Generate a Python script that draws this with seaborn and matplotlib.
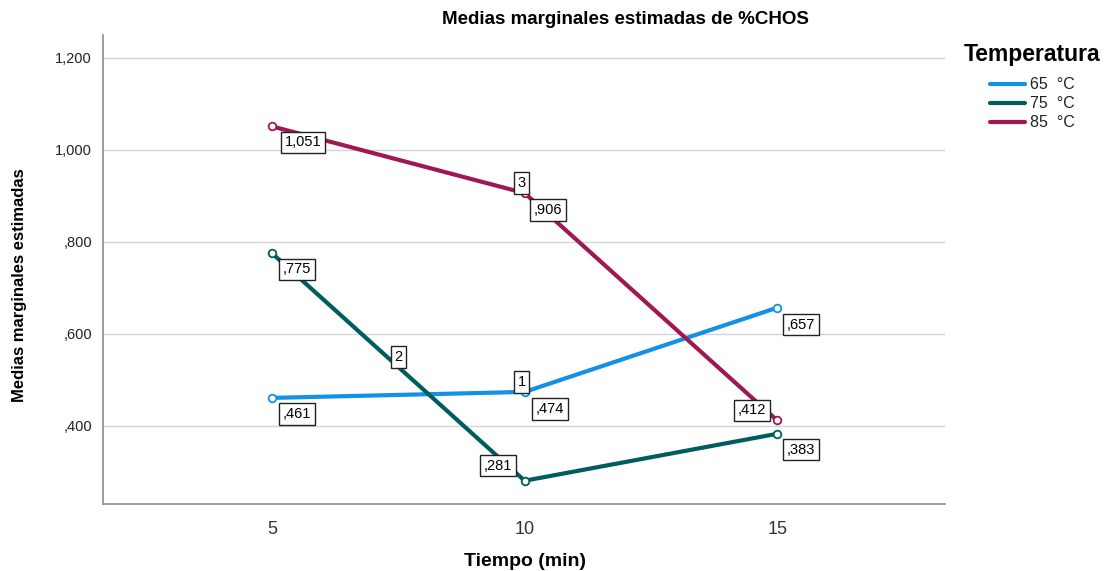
import pandas as pd
import numpy as np
import seaborn as sns
import matplotlib
matplotlib.use('Agg')
import matplotlib.pyplot as plt

tiempo = [5, 10, 15]
temperaturas = ['65  °C', '75  °C', '85  °C']
medias_65 = [0.461, 0.474, 0.657]
medias_75 = [0.775, 0.281, 0.383]
medias_85 = [1.051, 0.906, 0.412]
colores = ['#1192e8', '#005d5d', '#9f1853']

y_ticks = [0.4, 0.6, 0.8, 1.0, 1.2]
y_tick_labels = [',400', ',600', ',800', '1,000', '1,200']

df = pd.DataFrame({
    'Tiempo': tiempo * 3,
    'Media': medias_65 + medias_75 + medias_85,
    'Temperatura': [t for t in temperaturas for _ in tiempo],
})


def fmt(v):
    s = f"{v:.3f}".replace('.', ',')
    return s[1:] if s.startswith('0') else s


sns.set_style('white')
plt.rcParams['font.family'] = ['Liberation Sans', 'DejaVu Sans']
plt.rcParams['text.color'] = 'black'

fig = plt.figure(figsize=(11.07, 5.71), dpi=100)
ax = fig.add_axes([0.093, 0.117, 0.761, 0.822])

ax.grid(axis='y', color='#d3d3d3', linewidth=1)
ax.set_axisbelow(True)

sns.lineplot(data=df, x='Tiempo', y='Media', hue='Temperatura',
             palette=colores, linewidth=3, marker='o', markersize=5.5,
             markerfacecolor='white', markeredgewidth=1.3,
             legend=False, ax=ax, zorder=3)
# re-colour marker edges to match their line
for line in ax.get_lines():
    line.set_markeredgecolor(line.get_color())

ax.set_xlim(1.65, 18.33)
ax.set_ylim(0.23, 1.25)
ax.set_xticks(tiempo)
ax.set_xticklabels([str(t) for t in tiempo], fontsize=13, color='#333333')
ax.set_yticks(y_ticks)
ax.set_yticklabels(y_tick_labels, fontsize=10.5, color='#222222')
ax.tick_params(length=0, pad=8)
ax.tick_params(axis='x', pad=12)
for s in ['top', 'right']:
    ax.spines[s].set_visible(False)
for s in ['left', 'bottom']:
    ax.spines[s].set_color('#8c8c8c')
    ax.spines[s].set_linewidth(1.2)

ax.set_xlabel('')
ax.set_ylabel('')
fig.text(0.474, 0.017, 'Tiempo (min)', ha='center', va='center',
         fontsize=14, fontweight='bold', color='black')
fig.text(0.018, 0.5, 'Medias marginales estimadas', rotation=90,
         ha='center', va='center', fontsize=12, fontweight='bold',
         color='black')
fig.text(0.565, 0.965, 'Medias marginales estimadas de %CHOS',
         ha='center', va='center', fontsize=13.5, fontweight='bold',
         color='black')

box = dict(boxstyle='square,pad=0.25', fc='white', ec='#222222', lw=1)
series = [medias_65, medias_75, medias_85]
# pixel offsets of value labels (dx, dy) per series / point
offsets = [
    [(25, -16), (25, -17), (24, -17)],
    [(25, -16), (-27, 15), (24, -16)],
    [(31, -16), (23, -17), (-25, 10)],
]
for vals, offs in zip(series, offsets):
    for x, v, (dx, dy) in zip(tiempo, vals, offs):
        ax.annotate(fmt(v), (x, v), xytext=(dx, dy), textcoords='offset pixels',
                    ha='center', va='center', fontsize=10.5, bbox=box, zorder=5)

# series number labels
ax.annotate('1', (tiempo[1], medias_65[1]), xytext=(-3, 10),
            textcoords='offset pixels', ha='center', va='center',
            fontsize=10.5, bbox=box, zorder=5)
ax.annotate('2', ((tiempo[0] + tiempo[1]) / 2, (medias_75[0] + medias_75[1]) / 2),
            xytext=(0, 10), textcoords='offset pixels', ha='center', va='center',
            fontsize=10.5, bbox=box, zorder=5)
ax.annotate('3', (tiempo[1], medias_85[1]), xytext=(-3, 10),
            textcoords='offset pixels', ha='center', va='center',
            fontsize=10.5, bbox=box, zorder=5)

handles = [plt.Line2D([0], [0], color=c, lw=3) for c in colores]
leg = fig.legend(handles, temperaturas, title='Temperatura',
                 loc='upper right', bbox_to_anchor=(0.997, 0.93),
                 borderpad=0.2, borderaxespad=0,
                 frameon=False, fontsize=11.5, handlelength=2.2,
                 handletextpad=0.3, labelspacing=0.25)
leg.get_title().set_fontsize(16.5)
leg.get_title().set_fontweight('bold')
leg._legend_box.align = 'center'
leg._legend_box.sep = 8
for t in leg.get_texts():
    t.set_color('#222222')

fig.savefig('out.png', dpi=100)
